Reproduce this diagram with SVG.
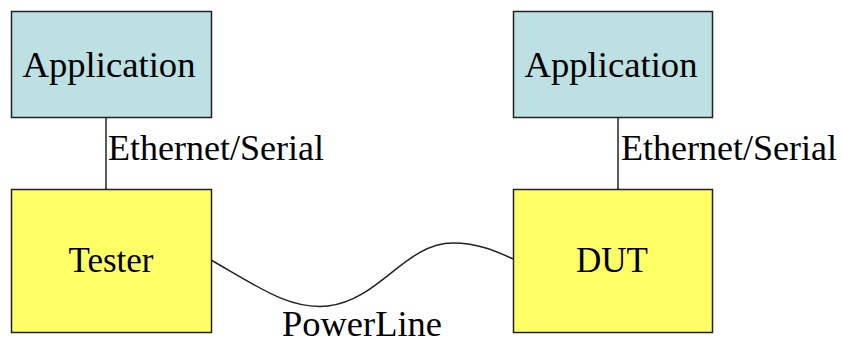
<svg xmlns="http://www.w3.org/2000/svg" width="843" height="344" viewBox="0 0 843 344">
<style>
.app{fill:#BDE0E3;stroke:#222;stroke-width:1.5}
.dev{fill:#FFFF66;stroke:#222;stroke-width:1.5}
.c{fill:none;stroke:#222;stroke-width:1.5}
text{font-family:'Liberation Serif','DejaVu Serif',serif;font-size:35px;fill:#000}
.m{text-anchor:middle}
</style>
<rect width="843" height="344" fill="#fff"/>
<g id="connectors">
<line class="c" x1="106" y1="117" x2="106" y2="189"/>
<line class="c" x1="618" y1="117" x2="618" y2="189"/>
<path class="c" d="M211,260 C260,288 290,310 328,306 C380,300 405,243 453,243 C480,243 500,253 513,259"/>
<text x="108" y="160" textLength="216" lengthAdjust="spacingAndGlyphs" font-family="Liberation Serif, serif">Ethernet/Serial</text>
<text x="621" y="160" textLength="216" lengthAdjust="spacingAndGlyphs" font-family="Liberation Serif, serif">Ethernet/Serial</text>
<text class="m" x="362" y="336" textLength="160" lengthAdjust="spacingAndGlyphs" font-family="Liberation Serif, serif">PowerLine</text>
</g>
<g id="app1">
<rect class="app" x="11.5" y="11.5" width="200" height="106"/>
<text class="m" x="109" y="77" textLength="173" lengthAdjust="spacingAndGlyphs" font-family="Liberation Serif, serif">Application</text>
</g>
<g id="app2">
<rect class="app" x="513.5" y="11.5" width="199" height="106"/>
<text class="m" x="611" y="77" textLength="173" lengthAdjust="spacingAndGlyphs" font-family="Liberation Serif, serif">Application</text>
</g>
<g id="tester">
<rect class="dev" x="11.5" y="189.5" width="200" height="143"/>
<text class="m" x="111" y="272" font-family="Liberation Serif, serif">Tester</text>
</g>
<g id="dut">
<rect class="dev" x="513.5" y="189.5" width="199" height="143"/>
<text class="m" x="612" y="272" font-family="Liberation Serif, serif">DUT</text>
</g>
</svg>
